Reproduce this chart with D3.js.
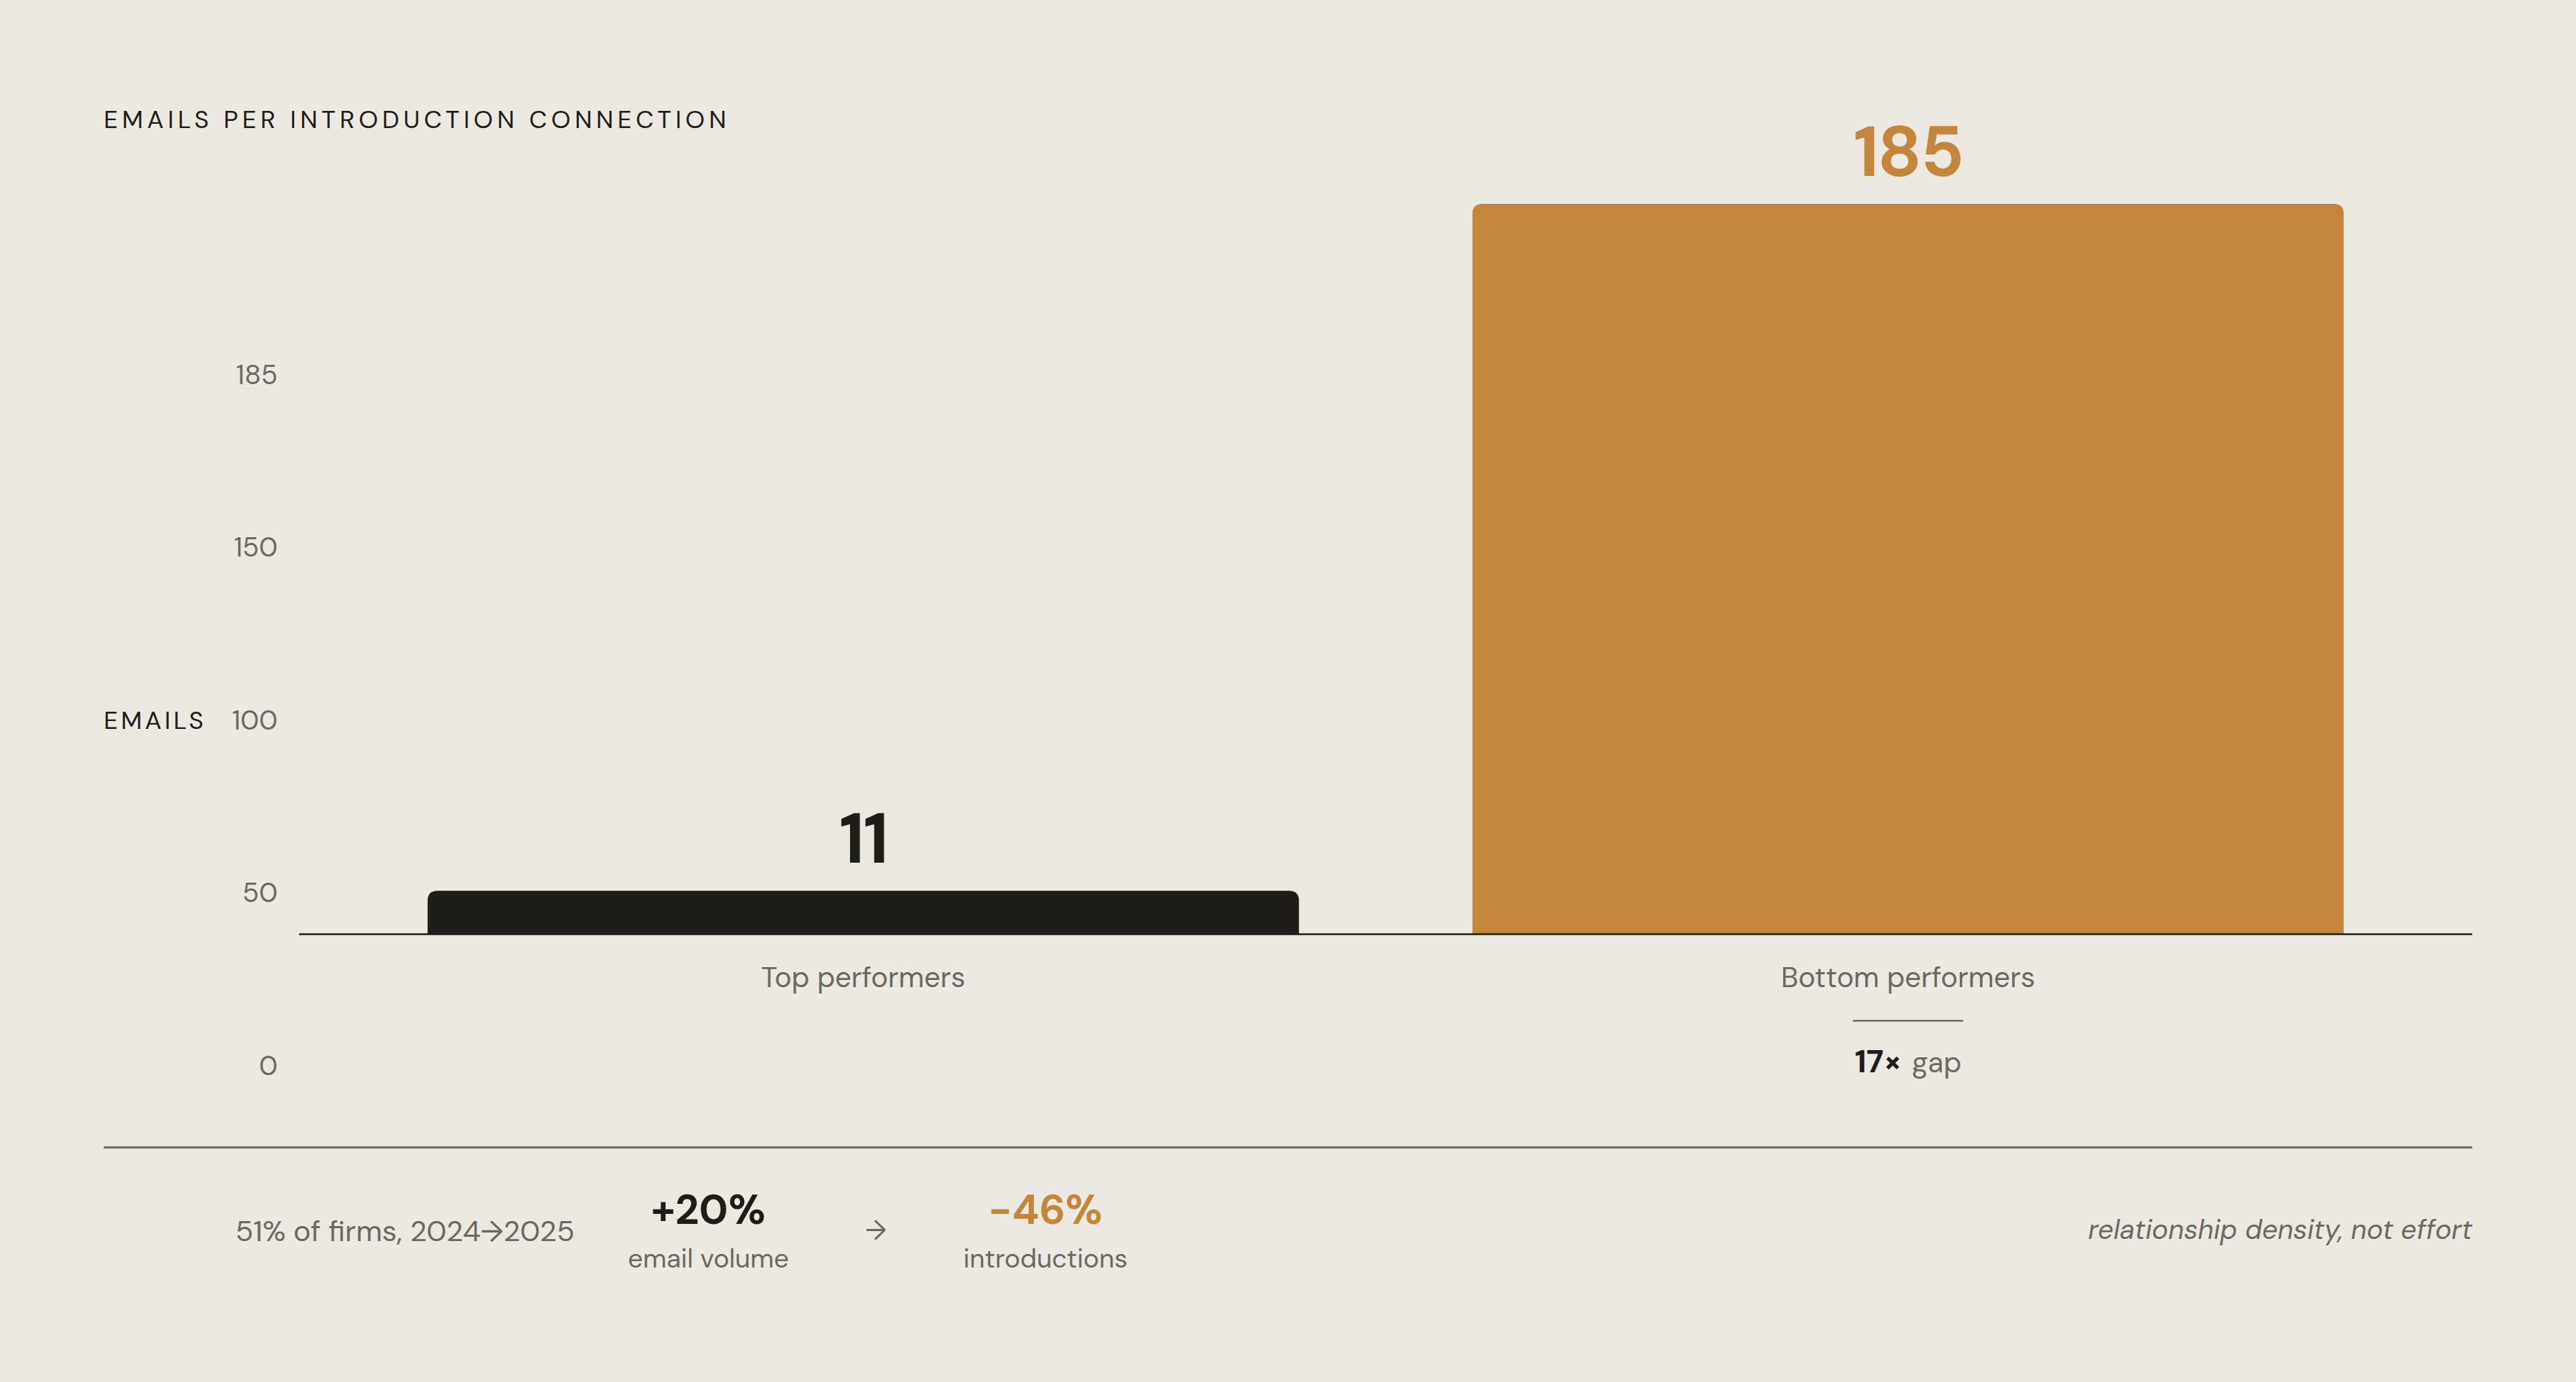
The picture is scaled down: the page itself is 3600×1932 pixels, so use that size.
<!DOCTYPE html>
<html>
<head>
<meta charset="utf-8">
<script src="https://cdn.jsdelivr.net/npm/d3@7"></script>
<style>
  html, body { margin: 0; padding: 0; background: #ece9e2; }
  svg { display: block; font-family: "DM Sans", Inter, "Noto Sans", sans-serif; }
</style>
</head>
<body>
<svg id="chart"></svg>
<script>
var svgWidth = 3600;
var svgHeight = 1932;

// data
var categories = ["Top performers", "Bottom performers"];
var emails = [11, 185];
var barColors = ["#1e1d19", "#c3863a"];
var tickLabels = ["185", "150", "100", "50", "0"];
var gapLabel = ["17×", "gap"];
var footerNote = "51% of firms, 2024\u21922025";
var footerStats = [
  { value: "+20%", label: "email volume", color: "#1e1d19" },
  { value: "-46%", label: "introductions", color: "#c3863a" }
];
var footerTagline = "relationship density, not effort";

var ink = "#1e1d19";
var muted = "#6b6862";

var svg = d3.select("#chart")
  .attr("width", svgWidth)
  .attr("height", svgHeight);

svg.append("rect")
  .attr("width", svgWidth)
  .attr("height", svgHeight)
  .attr("fill", "#ece9e2");

// title
svg.append("text")
  .attr("x", 145)
  .attr("y", 179)
  .attr("font-size", 35)
  .attr("letter-spacing", "0.163em")
  .attr("fill", ink)
  .text("EMAILS PER INTRODUCTION CONNECTION");

// scales
var plotLeft = 418, plotRight = 3455, baseY = 1306;
var xScale = d3.scaleBand()
  .domain(categories)
  .range([plotLeft, plotRight])
  .paddingInner(0.166)
  .paddingOuter(0.123);
var yScale = d3.scaleLinear()
  .domain([0, d3.max(emails)])
  .range([baseY, 285]);

// tick column (labels evenly stacked, as drawn in the source)
var tickScale = d3.scalePoint()
  .domain(tickLabels)
  .range([524, 1490]);

svg.append("g").selectAll("text")
  .data(tickLabels)
  .enter()
  .append("text")
  .attr("x", 388)
  .attr("y", d => tickScale(d))
  .attr("dy", "0.34em")
  .attr("text-anchor", "end")
  .attr("font-size", 38)
  .attr("fill", muted)
  .text(d => d);

svg.append("text")
  .attr("x", 145)
  .attr("y", tickScale("100"))
  .attr("dy", "0.34em")
  .attr("font-size", 35)
  .attr("letter-spacing", "0.12em")
  .attr("fill", ink)
  .text("EMAILS");

// bars with rounded top corners
var data = categories.map((c, i) => ({ cat: c, value: emails[i], color: barColors[i] }));
var r = 14;
function barPath(d) {
  var x0 = xScale(d.cat), x1 = x0 + xScale.bandwidth();
  var y0 = yScale(d.value), y1 = yScale(0);
  return `M${x0},${y1} L${x0},${y0 + r} Q${x0},${y0} ${x0 + r},${y0} L${x1 - r},${y0} Q${x1},${y0} ${x1},${y0 + r} L${x1},${y1} Z`;
}

svg.append("g").selectAll("path")
  .data(data)
  .enter()
  .append("path")
  .attr("d", barPath)
  .attr("fill", d => d.color);

// baseline
svg.append("line")
  .attr("x1", plotLeft)
  .attr("x2", plotRight)
  .attr("y1", baseY)
  .attr("y2", baseY)
  .attr("stroke", ink)
  .attr("stroke-width", 2.5);

// value labels
svg.append("g").selectAll("text")
  .data(data)
  .enter()
  .append("text")
  .attr("x", d => xScale(d.cat) + xScale.bandwidth() / 2)
  .attr("y", d => yScale(d.value) - 39)
  .attr("text-anchor", "middle")
  .attr("font-size", 98)
  .attr("font-weight", 700)
  .attr("letter-spacing", "-0.02em")
  .attr("fill", d => d.color)
  .text(d => d.value);

// category labels
svg.append("g").selectAll("text")
  .data(categories)
  .enter()
  .append("text")
  .attr("x", d => xScale(d) + xScale.bandwidth() / 2)
  .attr("y", 1380)
  .attr("text-anchor", "middle")
  .attr("font-size", 40)
  .attr("fill", muted)
  .text(d => d);

// gap annotation under the bottom performers
var gx = xScale(categories[1]) + xScale.bandwidth() / 2;
svg.append("line")
  .attr("x1", gx - 77)
  .attr("x2", gx + 77)
  .attr("y1", 1427)
  .attr("y2", 1427)
  .attr("stroke", muted)
  .attr("stroke-width", 2.5);

var gapText = svg.append("text")
  .attr("x", gx)
  .attr("y", 1499)
  .attr("text-anchor", "middle");
gapText.append("tspan")
  .attr("font-size", 45)
  .attr("font-weight", 700)
  .attr("fill", ink)
  .text(gapLabel[0]);
gapText.append("tspan")
  .attr("font-size", 40)
  .attr("fill", muted)
  .attr("dx", 14)
  .text(gapLabel[1]);

// separator
svg.append("line")
  .attr("x1", 145)
  .attr("x2", plotRight)
  .attr("y1", 1604)
  .attr("y2", 1604)
  .attr("stroke", muted)
  .attr("stroke-width", 3);

// footer
svg.append("text")
  .attr("x", 803)
  .attr("y", 1735)
  .attr("text-anchor", "end")
  .attr("font-size", 41)
  .attr("fill", muted)
  .text(footerNote);

var statX = [990, 1461];
var stats = svg.append("g").selectAll("g")
  .data(footerStats)
  .enter()
  .append("g")
  .attr("transform", (d, i) => `translate(${statX[i]},0)`);
stats.append("text")
  .attr("y", 1711)
  .attr("text-anchor", "middle")
  .attr("font-size", 58)
  .attr("font-weight", 700)
  .attr("fill", d => d.color)
  .text(d => d.value);
stats.append("text")
  .attr("y", 1772)
  .attr("text-anchor", "middle")
  .attr("font-size", 37)
  .attr("fill", muted)
  .text(d => d.label);

svg.append("text")
  .attr("x", 1224)
  .attr("y", 1733)
  .attr("text-anchor", "middle")
  .attr("font-size", 38)
  .attr("fill", muted)
  .text("\u2192");

svg.append("text")
  .attr("x", plotRight)
  .attr("y", 1732)
  .attr("text-anchor", "end")
  .attr("font-size", 38.3)
  .attr("font-style", "italic")
  .attr("fill", muted)
  .text(footerTagline);
</script>
</body>
</html>
